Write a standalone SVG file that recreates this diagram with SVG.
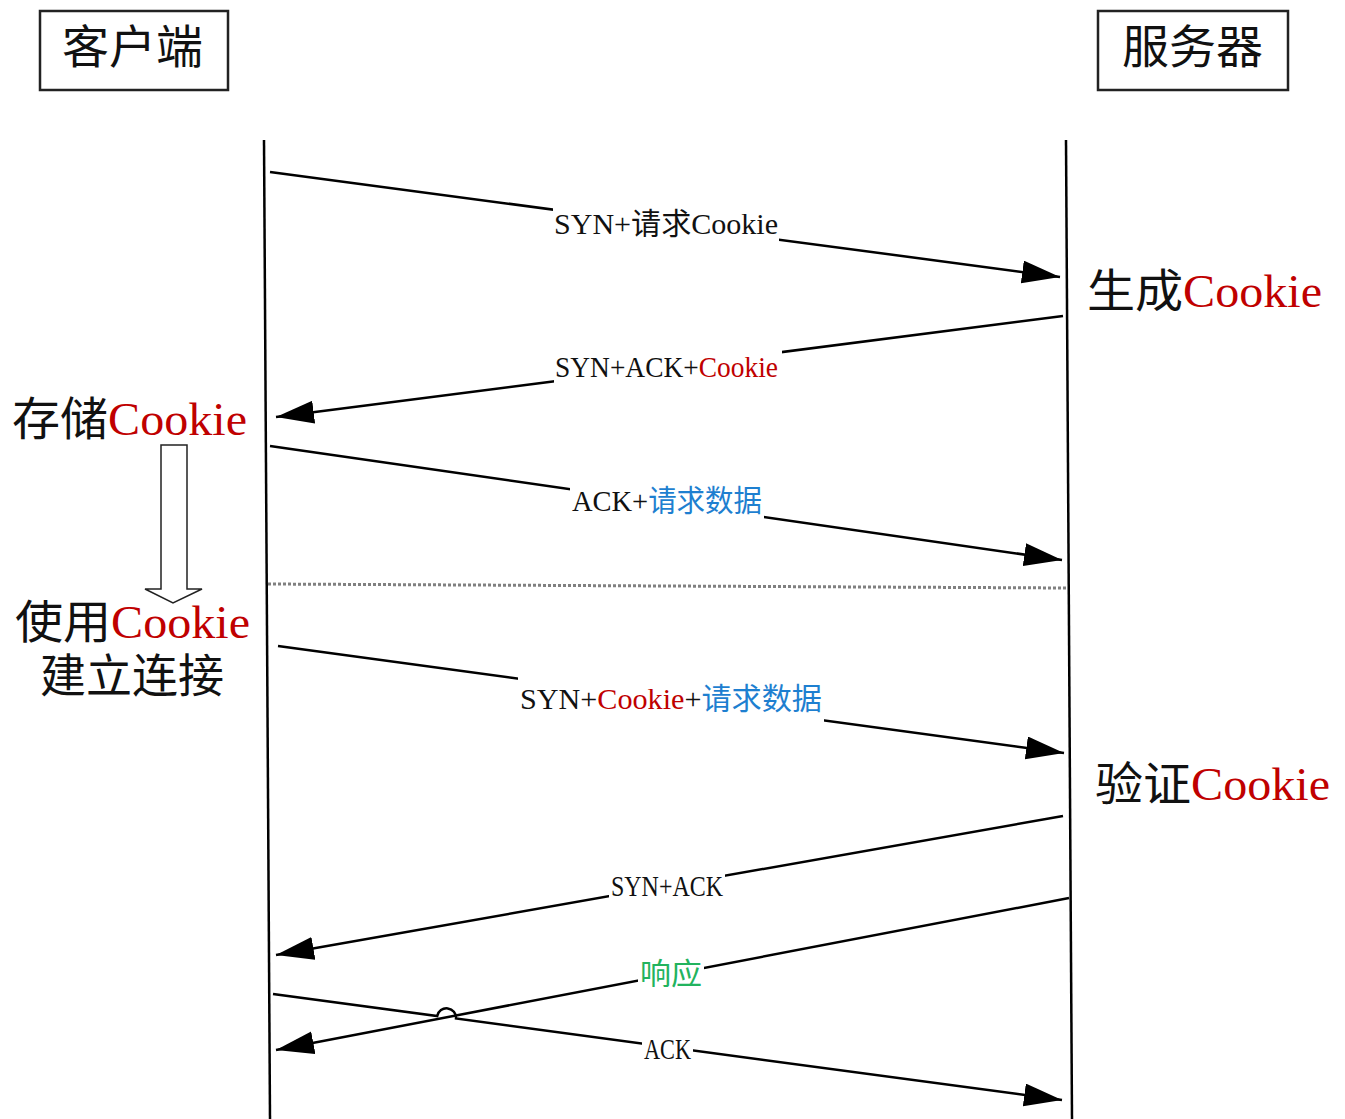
<svg xmlns="http://www.w3.org/2000/svg" width="1345" height="1119" viewBox="0 0 1345 1119">
<defs>
<marker id="ah" markerUnits="userSpaceOnUse" markerWidth="40" markerHeight="24" refX="38" refY="11.5" orient="auto">
<path d="M0,0 L38,11.5 L0,23 z" fill="#000"/>
</marker>
<style>
.t{font-family:"Liberation Serif","Noto Sans CJK SC",serif;fill:#111;}
.big{font-size:46px;}
.lbl{font-size:30px;}
.red{fill:#c00000;}
.blue{fill:#1e7fd0;}
.green{fill:#22b35e;}
.ln{stroke:#000;stroke-width:2.5;fill:none;}
.msg{stroke:#000;stroke-width:2.5;fill:none;marker-end:url(#ah);}
.bg{fill:#fff;}
.box{fill:#fff;stroke:#222;stroke-width:2.5;}
</style>
</defs>
<rect width="1345" height="1119" fill="#fff"/>

<g id="client">
<rect class="box" x="40" y="11" width="188" height="79"/>
<text class="t big" x="62" y="63" textLength="141" lengthAdjust="spacingAndGlyphs">客户端</text>
</g>
<g id="server">
<rect class="box" x="1098" y="11" width="190" height="79"/>
<text class="t big" x="1122" y="63" textLength="141" lengthAdjust="spacingAndGlyphs">服务器</text>
</g>

<g id="lifelines">
<line class="ln" x1="264" y1="140" x2="270" y2="1119"/>
<line class="ln" x1="1066" y1="140" x2="1072" y2="1119"/>
</g>

<g id="notes">
<text class="t big" x="1087" y="307" textLength="235" lengthAdjust="spacingAndGlyphs">生成<tspan class="red">Cookie</tspan></text>
<text class="t big" x="12" y="435" textLength="235" lengthAdjust="spacingAndGlyphs">存储<tspan class="red">Cookie</tspan></text>
<text class="t big" x="15" y="638" textLength="235" lengthAdjust="spacingAndGlyphs">使用<tspan class="red">Cookie</tspan></text>
<text class="t big" x="40" y="692" textLength="184" lengthAdjust="spacingAndGlyphs">建立连接</text>
<text class="t big" x="1095" y="800" textLength="235" lengthAdjust="spacingAndGlyphs">验证<tspan class="red">Cookie</tspan></text>
</g>

<g id="hollow-arrow">
<path d="M161,445 L187,445 L187,589 L202,589 L173,603 L145,589 L161,589 Z" fill="#fff" stroke="#222" stroke-width="1.5"/>
</g>

<g id="connectors">
<line class="msg" x1="270" y1="172" x2="1060" y2="277"/>
<line class="msg" x1="1063" y1="316" x2="276" y2="417"/>
<line class="msg" x1="270" y1="446" x2="1062" y2="560"/>
<line x1="268" y1="584" x2="1066" y2="588" stroke="#808080" stroke-width="3" stroke-dasharray="3 2"/>
<line class="msg" x1="278" y1="646" x2="1064" y2="753"/>
<line class="msg" x1="1063" y1="816" x2="276" y2="955"/>
<line class="msg" x1="1069" y1="898" x2="276" y2="1050"/>
<path class="msg" d="M273,994 L437.2,1016 A9.5,9.5 0 0 1 456,1018.5 L1062,1100"/>
</g>

<g id="labels">
<rect class="bg" x="553" y="205" width="226" height="38"/>
<text class="t lbl" x="554" y="234" textLength="224" lengthAdjust="spacingAndGlyphs">SYN+请求Cookie</text>

<rect class="bg" x="554" y="348" width="228" height="37"/>
<text class="t lbl" x="555" y="377" textLength="223" lengthAdjust="spacingAndGlyphs">SYN+ACK+<tspan class="red">Cookie</tspan></text>

<rect class="bg" x="570" y="485" width="194" height="35"/>
<text class="t lbl" x="572" y="511" textLength="190" lengthAdjust="spacingAndGlyphs">ACK+<tspan class="blue">请求数据</tspan></text>

<rect class="bg" x="518" y="676" width="306" height="46"/>
<text class="t lbl" x="520" y="709" textLength="302" lengthAdjust="spacingAndGlyphs">SYN+<tspan class="red">Cookie</tspan>+<tspan class="blue">请求数据</tspan></text>

<rect class="bg" x="609" y="870" width="116" height="30"/>
<text class="t lbl" x="611" y="896" textLength="112" lengthAdjust="spacingAndGlyphs">SYN+ACK</text>

<rect class="bg" x="638" y="955" width="66" height="33"/>
<text class="t lbl green" x="640" y="984" textLength="62" lengthAdjust="spacingAndGlyphs">响应</text>

<rect class="bg" x="642" y="1034" width="51" height="28"/>
<text class="t lbl" x="644" y="1059" textLength="47" lengthAdjust="spacingAndGlyphs">ACK</text>
</g>
</svg>
